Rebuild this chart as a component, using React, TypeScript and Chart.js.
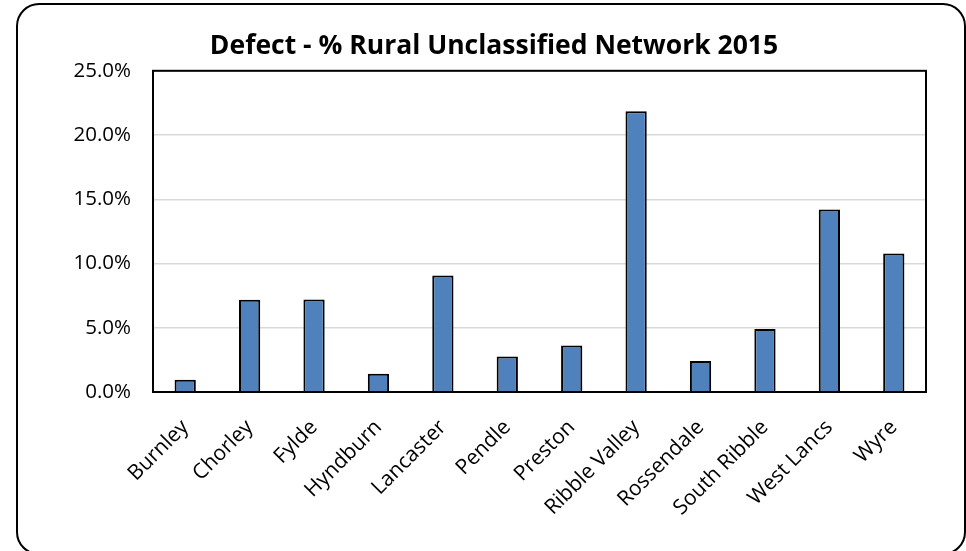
import { useEffect, useRef } from 'react';
import { Chart, registerables } from 'chart.js';

Chart.register(...registerables);

// District names along the category axis
const districts = [
  'Burnley',
  'Chorley',
  'Fylde',
  'Hyndburn',
  'Lancaster',
  'Pendle',
  'Preston',
  'Ribble Valley',
  'Rossendale',
  'South Ribble',
  'West Lancs',
  'Wyre',
];

// Share of the rural unclassified network recorded as defective (%)
const defectPct = [0.96, 7.18, 7.2, 1.42, 9.07, 2.77, 3.62, 21.85, 2.41, 4.9, 14.2, 10.78];

// Value axis ticks (%)
const yTicks = [0, 5, 10, 15, 20, 25];

const chartTitle = 'Defect - % Rural Unclassified Network 2015';

const FONT = "'Open Sans', 'DejaVu Sans', sans-serif";

// Rounded outer frame plus the boxed plot area
const framePlugin = {
  id: 'frame',
  beforeDraw(chart: any) {
    const { ctx, width, height } = chart;
    ctx.save();
    ctx.fillStyle = '#ffffff';
    ctx.fillRect(0, 0, width, height);
    const x = 17, y = 4, w = 948, h = 550, r = 22;
    ctx.beginPath();
    ctx.moveTo(x + r, y);
    ctx.lineTo(x + w - r, y);
    ctx.arcTo(x + w, y, x + w, y + r, r);
    ctx.lineTo(x + w, y + h - r);
    ctx.arcTo(x + w, y + h, x + w - r, y + h, r);
    ctx.lineTo(x + r, y + h);
    ctx.arcTo(x, y + h, x, y + h - r, r);
    ctx.lineTo(x, y + r);
    ctx.arcTo(x, y, x + r, y, r);
    ctx.closePath();
    ctx.lineWidth = 2;
    ctx.strokeStyle = '#000000';
    ctx.stroke();
    ctx.restore();
  },
  afterDraw(chart: any) {
    const { ctx, chartArea } = chart;
    ctx.save();
    ctx.lineWidth = 2;
    ctx.strokeStyle = '#000000';
    ctx.strokeRect(
      chartArea.left,
      chartArea.top,
      chartArea.right - chartArea.left,
      chartArea.bottom - chartArea.top
    );
    ctx.restore();
  },
};

export default function App() {
  const canvasRef = useRef<HTMLCanvasElement | null>(null);

  useEffect(() => {
    const canvas = canvasRef.current;
    if (!canvas) return;

    const chart = new Chart(canvas, {
      type: 'bar',
      data: {
        labels: districts,
        datasets: [
          {
            data: defectPct,
            backgroundColor: '#4F81BD',
            borderColor: '#000000',
            borderWidth: 2,
            barPercentage: 0.33,
            categoryPercentage: 1,
          },
        ],
      },
      options: {
        responsive: false,
        animation: false,
        layout: { padding: { left: 62, right: 40, top: 0, bottom: 0 } },
        plugins: {
          legend: { display: false },
          tooltip: { enabled: false },
          title: {
            display: true,
            text: chartTitle,
            color: '#000000',
            font: { family: FONT, size: 26.5, weight: 'bold' },
            padding: { top: 31, bottom: 8 },
          },
        },
        scales: {
          x: {
            grid: { display: false },
            border: { display: false },
            ticks: {
              color: '#000000',
              font: { family: FONT, size: 21 },
              minRotation: 45,
              maxRotation: 45,
              autoSkip: false,
              padding: 15,
            },
            afterFit(scale: any) {
              scale.height = 159;
            },
          },
          y: {
            min: yTicks[0],
            max: yTicks[yTicks.length - 1],
            grid: { color: '#D9D9D9', lineWidth: 1.5, drawTicks: false },
            border: { display: false },
            ticks: {
              stepSize: yTicks[1] - yTicks[0],
              color: '#000000',
              font: { family: FONT, size: 20.5 },
              padding: 22,
              callback: (v: any) => Number(v).toFixed(1) + '%',
            },
            afterFit(scale: any) {
              scale.width = 91;
            },
          },
        },
      },
      plugins: [framePlugin],
    });

    return () => chart.destroy();
  }, []);

  return (
    <div
      style={{
        position: 'fixed',
        left: 0,
        top: 0,
        width: 966,
        height: 551,
        background: '#ffffff',
      }}
    >
      <canvas ref={canvasRef} width={966} height={551} style={{ display: 'block' }} />
    </div>
  );
}
